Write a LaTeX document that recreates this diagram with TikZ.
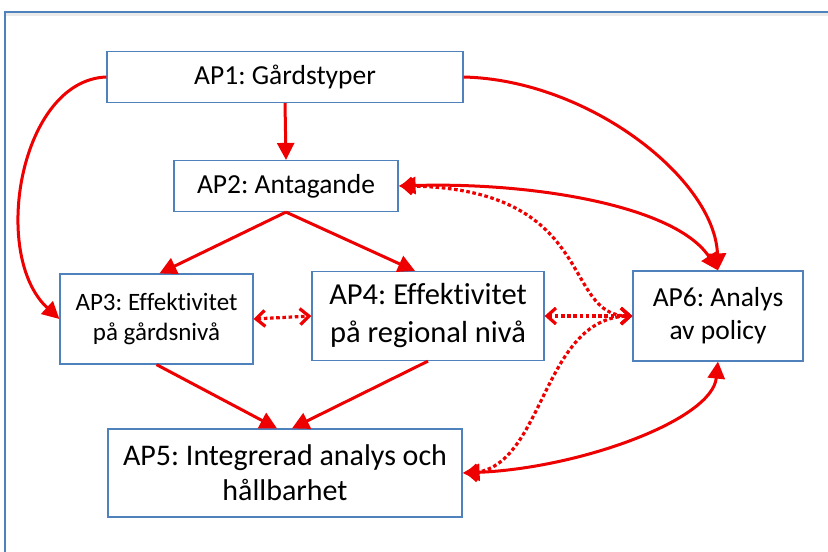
\documentclass[tikz,border=0pt]{standalone}
\usepackage{fontspec}
\setmainfont{Carlito}[Ligatures=NoCommon]
\usetikzlibrary{arrows.meta}
\definecolor{boxblue}{RGB}{79,129,189}
\definecolor{arrred}{RGB}{238,0,0}
\frenchspacing
\begin{document}
\begin{tikzpicture}[x=1pt,y=-1pt,
  box/.style={draw=boxblue, line width=1.2pt, fill=white, inner sep=0pt, align=center},
  sarrow/.style={draw=arrred, line width=3pt, -{Triangle[length=17pt,width=17pt]}},
  sdouble/.style={draw=arrred, line width=3pt, {Triangle[length=17pt,width=17pt]}-{Triangle[length=17pt,width=17pt]}},
  ddouble/.style={draw=arrred, line width=3.2pt, dash pattern=on 3.6pt off 2.6pt, {Straight Barb[length=9pt,width=16pt]}-{Straight Barb[length=9pt,width=16pt]}}
]
\useasboundingbox (0,0) rectangle (828,552);
% frame
\draw[boxblue, line width=2.5pt] (5,560) -- (5,12) -- (840,12);
\fill[black!8] (6.3,13.3) rectangle (840,16);

% nodes
\node[box, minimum width=356pt, minimum height=51pt, font=\fontsize{27.5}{33}\selectfont] (ap1) at (285,77) {AP1: Gårdstyper};
\node[box, minimum width=224pt, minimum height=51pt, font=\fontsize{27.5}{33}\selectfont] (ap2) at (286,186) {AP2: Antagande};
\node[box, minimum width=193pt, minimum height=90pt, font=\fontsize{25}{30}\selectfont] (ap3) at (156.5,319) {AP3: Effektivitet\\på gårdsnivå};
\node[box, minimum width=232pt, minimum height=89pt, font=\fontsize{30.5}{38}\selectfont] (ap4) at (428,316) {AP4: Effektivitet\\på regional nivå};
\node[box, minimum width=170pt, minimum height=90pt, font=\fontsize{27.5}{33}\selectfont] (ap6) at (718,316) {AP6: Analys\\av policy};
\node[box, minimum width=354pt, minimum height=88pt, font=\fontsize{30}{35}\selectfont] (ap5) at (285,473) {AP5: Integrerad analys och\\hållbarhet};

% coordinates on borders
\coordinate (ap1w) at (ap1.west);
\coordinate (ap1e) at (ap1.east);
\coordinate (ap2e) at (ap2.east);
\coordinate (ap2s) at (ap2.south);
\coordinate (ap3n) at ([xshift=3pt]ap3.north);
\coordinate (ap3s) at (ap3.south);
\coordinate (ap4n) at ([xshift=-13pt]ap4.north);
\coordinate (ap4s) at ([xshift=0pt]ap4.south);
\coordinate (ap5nl) at ([xshift=-8pt]ap5.north);
\coordinate (ap5nr) at ([xshift=7pt]ap5.north);
\coordinate (ap6n) at (ap6.north);
\coordinate (ap6s) at (ap6.south);
\coordinate (ap6w) at (ap6.west);
\coordinate (ap5e) at (ap5.east);

% dotted connectors
\draw[ddouble] (ap3.east) -- (ap4.west);
\draw[ddouble] (ap4.east) -- (ap6w);
\draw[ddouble] ([xshift=2pt]ap2e) .. controls (600,186) and (560,317) .. (ap6w);
\draw[ddouble] ([xshift=3pt]ap5e) .. controls (545,472) and (540,317) .. (ap6w);

% solid connectors
\draw[sarrow] (ap1.south) -- (ap2.north);
\draw[sarrow] (ap1w) .. controls (20,80) and (-10,255) .. (ap3.west);
\draw[sarrow] (ap1e) .. controls (590,80) and (715,180) .. (ap6n);
\draw[sdouble] (ap2e) .. controls (530,182) and (675,205) .. (ap6n);
\draw[sarrow] (ap2s) -- (ap3n);
\draw[sarrow] (ap2s) -- (ap4n);
\draw[sarrow] (ap3s) -- (ap5nl);
\draw[sarrow] (ap4s) -- (ap5nr);
\draw[sdouble] (ap5e) .. controls (580,468) and (712,420) .. (ap6s);
\end{tikzpicture}
\end{document}
